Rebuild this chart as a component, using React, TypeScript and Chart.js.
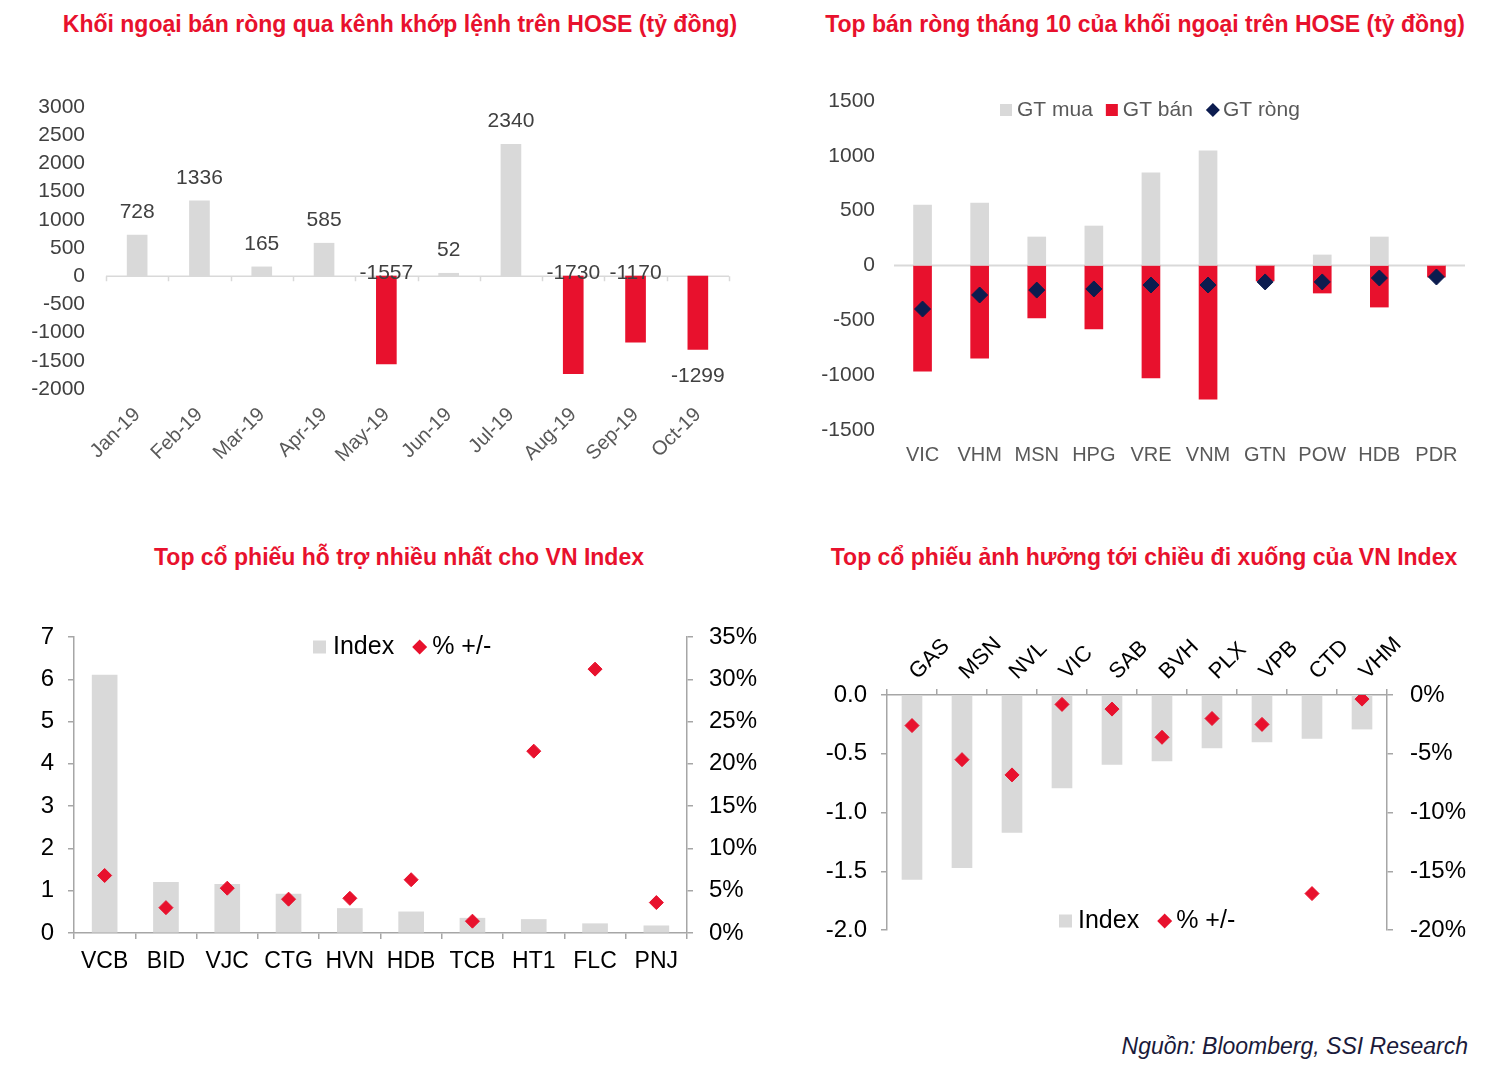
import React, { useEffect, useRef } from "react";
import { Chart, registerables } from "chart.js";
Chart.register(...registerables);

const FONT = "'Liberation Sans', Arial, sans-serif";
const GRAY = "#d9d9d9";
const RED = "#e8112d";
const NAVY = "#0c1c4f";
const AXIS = "#a6a6a6";

// Panel 1: net foreign flow by month
const months = ["Jan-19", "Feb-19", "Mar-19", "Apr-19", "May-19", "Jun-19", "Jul-19", "Aug-19", "Sep-19", "Oct-19"];
const netFlow = [728, 1336, 165, 585, -1557, 52, 2340, -1730, -1170, -1299];

// Panel 2: top net sells in October
const topTickers = ["VIC", "VHM", "MSN", "HPG", "VRE", "VNM", "GTN", "POW", "HDB", "PDR"];
const buyValue = [552, 570, 260, 360, 844, 1045, 0, 96, 260, 0];
const sellValue = [-963, -844, -479, -579, -1026, -1218, -141, -251, -379, -105];
const netValue = [-397, -269, -224, -214, -178, -178, -150, -150, -114, -105];

// Panel 3: top supporting stocks
const supportTickers = ["VCB", "BID", "VJC", "CTG", "HVN", "HDB", "TCB", "HT1", "FLC", "PNJ"];
const supportIndex = [6.1, 1.2, 1.15, 0.92, 0.58, 0.5, 0.35, 0.32, 0.22, 0.17];
const supportPct = [0.068, 0.03, 0.053, 0.04, 0.041, 0.063, 0.014, 0.215, 0.312, 0.036];

// Panel 4: top dragging stocks
const dragTickers = ["GAS", "MSN", "NVL", "VIC", "SAB", "BVH", "PLX", "VPB", "CTD", "VHM"];
const dragIndex = [-1.57, -1.47, -1.17, -0.79, -0.59, -0.56, -0.45, -0.4, -0.37, -0.29];
const dragPct = [-0.026, -0.055, -0.068, -0.008, -0.012, -0.036, -0.02, -0.025, -0.169, -0.0035];

type LegendItem = { label: string; color: string; shape: "square" | "diamond" };

const legendPlugin = {
  id: "customLegend",
  afterDraw(chart: any, _args: any, opts: any) {
    if (!opts || !opts.items) return;
    const ctx = chart.ctx;
    ctx.save();
    ctx.font = `${opts.size}px ${FONT}`;
    ctx.textBaseline = "middle";
    ctx.textAlign = "left";
    let x = opts.x;
    const y = opts.y;
    (opts.items as LegendItem[]).forEach((it) => {
      const m = opts.marker;
      ctx.fillStyle = it.color;
      if (it.shape === "square") {
        ctx.fillRect(x, y - m / 2, m, m);
      } else {
        const r = m / 2 + 1;
        ctx.beginPath();
        ctx.moveTo(x + r, y - r);
        ctx.lineTo(x + 2 * r, y);
        ctx.lineTo(x + r, y + r);
        ctx.lineTo(x, y);
        ctx.closePath();
        ctx.fill();
      }
      x += m + opts.gap;
      ctx.fillStyle = opts.color;
      ctx.fillText(it.label, x, y);
      x += ctx.measureText(it.label).width + opts.spacing;
    });
    ctx.restore();
  },
};

const zeroLinePlugin = {
  id: "zeroLine",
  beforeDatasetsDraw(chart: any, _args: any, opts: any) {
    if (!opts || !opts.enabled) return;
    const { ctx, chartArea } = chart;
    const y0 = chart.scales.y.getPixelForValue(0);
    ctx.save();
    ctx.strokeStyle = opts.color;
    ctx.lineWidth = opts.width;
    ctx.beginPath();
    ctx.moveTo(chartArea.left, y0);
    ctx.lineTo(chartArea.right, y0);
    if (opts.ticks) {
      const n = chart.data.labels.length;
      const w = (chartArea.right - chartArea.left) / n;
      for (let i = 0; i <= n; i++) {
        const x = Math.round(chartArea.left + i * w) + 0.5;
        ctx.moveTo(x, y0);
        ctx.lineTo(x, y0 + opts.ticks);
      }
    }
    ctx.stroke();
    ctx.restore();
  },
};

const valueLabelPlugin = {
  id: "valueLabels",
  afterDatasetsDraw(chart: any, _args: any, opts: any) {
    if (!opts || !opts.enabled) return;
    const ctx = chart.ctx;
    const meta = chart.getDatasetMeta(0);
    const values = chart.data.datasets[0].data as number[];
    const y0 = chart.scales.y.getPixelForValue(0);
    const last = values.length - 1;
    ctx.save();
    ctx.font = `${opts.size}px ${FONT}`;
    ctx.fillStyle = opts.color;
    ctx.textAlign = "center";
    ctx.textBaseline = "middle";
    meta.data.forEach((bar: any, i: number) => {
      const v = values[i];
      let y: number;
      if (v >= 0) y = bar.y - 23;
      else if (i === last) y = bar.y + 27;
      else y = y0 - 3;
      ctx.fillText(String(v), bar.x, y);
    });
    ctx.restore();
  },
};

Chart.register(legendPlugin, zeroLinePlugin, valueLabelPlugin);

function useChart(ref: React.RefObject<HTMLCanvasElement | null>, make: () => any) {
  useEffect(() => {
    if (!ref.current) return;
    const chart = new Chart(ref.current, make());
    return () => chart.destroy();
  }, []);
}

const fixW = (w: number) => (s: any) => {
  s.width = w;
};
const fixH = (h: number) => (s: any) => {
  s.height = h;
};

function Panel1() {
  const ref = useRef<HTMLCanvasElement>(null);
  useChart(ref, () => ({
    type: "bar",
    data: {
      labels: months,
      datasets: [
        {
          data: netFlow,
          backgroundColor: netFlow.map((v) => (v >= 0 ? GRAY : RED)),
          barThickness: 20,
        },
      ],
    },
    options: {
      responsive: false,
      animation: false,
      layout: { padding: { top: 47, right: 21, left: 0, bottom: 0 } },
      plugins: {
        legend: { display: false },
        tooltip: { enabled: false },
        zeroLine: { enabled: true, color: GRAY, width: 1.5, ticks: 5 },
        valueLabels: { enabled: true, size: 21, color: "#404040" },
      },
      scales: {
        x: {
          afterFit: fixH(111),
          grid: { display: false },
          border: { display: false },
          ticks: {
            color: "#595959",
            font: { family: FONT, size: 20 },
            minRotation: 45,
            maxRotation: 45,
            autoSkip: false,
            padding: 6,
          },
        },
        y: {
          afterFit: fixW(106),
          min: -2000,
          max: 3000,
          grid: { display: false, drawTicks: false },
          border: { display: false },
          ticks: {
            stepSize: 500,
            padding: 21,
            color: "#404040",
            font: { family: FONT, size: 21 },
            callback: (v: any) => String(v),
          },
        },
      },
    },
  }));
  return <canvas ref={ref} width={750} height={440} style={{ position: "absolute", left: 0, top: 60 }} />;
}

function Panel2() {
  const ref = useRef<HTMLCanvasElement>(null);
  useChart(ref, () => ({
    type: "bar",
    data: {
      labels: topTickers,
      datasets: [
        {
          type: "line",
          label: "GT ròng",
          data: netValue,
          showLine: false,
          pointStyle: "rectRot",
          pointRadius: 8,
          pointBackgroundColor: NAVY,
          pointBorderColor: NAVY,
          order: 0,
        },
        { label: "GT mua", data: buyValue, backgroundColor: GRAY, barThickness: 18, grouped: false, order: 1 },
        { label: "GT bán", data: sellValue, backgroundColor: RED, barThickness: 18, grouped: false, order: 2 },
      ],
    },
    options: {
      responsive: false,
      animation: false,
      layout: { padding: { top: 41, right: 32, left: 0, bottom: 0 } },
      plugins: {
        legend: { display: false },
        tooltip: { enabled: false },
        zeroLine: { enabled: true, color: GRAY, width: 2, ticks: 0 },
        customLegend: {
          x: 240,
          y: 50,
          size: 21,
          marker: 12,
          gap: 5,
          spacing: 13,
          color: "#595959",
          items: [
            { label: "GT mua", color: GRAY, shape: "square" },
            { label: "GT bán", color: RED, shape: "square" },
            { label: "GT ròng", color: NAVY, shape: "diamond" },
          ],
        },
      },
      scales: {
        x: {
          afterFit: fixH(70),
          grid: { display: false },
          border: { display: false },
          ticks: { color: "#595959", font: { family: FONT, size: 20 }, padding: 5, autoSkip: false, maxRotation: 0 },
        },
        y: {
          afterFit: fixW(134),
          min: -1500,
          max: 1500,
          grid: { display: false, drawTicks: false },
          border: { display: false },
          ticks: {
            stepSize: 500,
            padding: 19,
            color: "#404040",
            font: { family: FONT, size: 21 },
            callback: (v: any) => String(v),
          },
        },
      },
    },
  }));
  return <canvas ref={ref} width={737} height={440} style={{ position: "absolute", left: 760, top: 60 }} />;
}

const axisGrid = { drawOnChartArea: false, drawTicks: true, tickLength: 6, color: AXIS, lineWidth: 1.5 };
const axisBorder = { display: true, color: AXIS, width: 1.5 };

function Panel3() {
  const ref = useRef<HTMLCanvasElement>(null);
  useChart(ref, () => ({
    type: "bar",
    data: {
      labels: supportTickers,
      datasets: [
        {
          type: "line",
          label: "% +/-",
          data: supportPct,
          yAxisID: "y2",
          showLine: false,
          pointStyle: "rectRot",
          pointRadius: 7,
          pointBackgroundColor: RED,
          pointBorderColor: RED,
          order: 0,
        },
        { label: "Index", data: supportIndex, yAxisID: "y", backgroundColor: GRAY, barThickness: 25, order: 1 },
      ],
    },
    options: {
      responsive: false,
      animation: false,
      layout: { padding: { top: 37, right: 0, left: 0, bottom: 0 } },
      plugins: {
        legend: { display: false },
        tooltip: { enabled: false },
        customLegend: {
          x: 313,
          y: 47,
          size: 25,
          marker: 13,
          gap: 7,
          spacing: 18,
          color: "#000",
          items: [
            { label: "Index", color: GRAY, shape: "square" },
            { label: "% +/-", color: RED, shape: "diamond" },
          ],
        },
      },
      scales: {
        x: {
          afterFit: fixH(67),
          grid: { ...axisGrid, offset: true },
          border: axisBorder,
          ticks: { color: "#000", font: { family: FONT, size: 23 }, padding: 9, autoSkip: false, maxRotation: 0 },
        },
        y: {
          position: "left",
          afterFit: fixW(74),
          min: 0,
          max: 7,
          grid: axisGrid,
          border: axisBorder,
          ticks: { stepSize: 1, padding: 14, color: "#000", font: { family: FONT, size: 24 } },
        },
        y2: {
          position: "right",
          afterFit: fixW(83),
          min: 0,
          max: 0.35,
          grid: axisGrid,
          border: axisBorder,
          ticks: {
            stepSize: 0.05,
            padding: 16,
            color: "#000",
            font: { family: FONT, size: 24 },
            callback: (v: any) => Math.round(v * 100) + "%",
          },
        },
      },
    },
  }));
  return <canvas ref={ref} width={770} height={400} style={{ position: "absolute", left: 0, top: 600 }} />;
}

function Panel4() {
  const ref = useRef<HTMLCanvasElement>(null);
  useChart(ref, () => ({
    type: "bar",
    data: {
      labels: dragTickers,
      datasets: [
        {
          type: "line",
          label: "% +/-",
          data: dragPct,
          yAxisID: "y2",
          showLine: false,
          pointStyle: "rectRot",
          pointRadius: 7,
          pointBackgroundColor: RED,
          pointBorderColor: RED,
          order: 0,
        },
        { label: "Index", data: dragIndex, yAxisID: "y", backgroundColor: GRAY, barThickness: 20, order: 1 },
      ],
    },
    options: {
      responsive: false,
      animation: false,
      layout: { padding: { top: 0, right: 0, left: 0, bottom: 70 } },
      plugins: {
        legend: { display: false },
        tooltip: { enabled: false },
        customLegend: {
          x: 299,
          y: 321,
          size: 25,
          marker: 13,
          gap: 6,
          spacing: 18,
          color: "#000",
          items: [
            { label: "Index", color: GRAY, shape: "square" },
            { label: "% +/-", color: RED, shape: "diamond" },
          ],
        },
      },
      scales: {
        x: {
          position: "top",
          afterFit: fixH(95),
          grid: { ...axisGrid, offset: true },
          border: axisBorder,
          ticks: {
            color: "#000",
            font: { family: FONT, size: 22 },
            padding: 4,
            labelOffset: 20,
            autoSkip: false,
            minRotation: 45,
            maxRotation: 45,
          },
        },
        y: {
          position: "left",
          afterFit: fixW(127),
          min: -2,
          max: 0,
          grid: axisGrid,
          border: axisBorder,
          ticks: {
            stepSize: 0.5,
            padding: 14,
            color: "#000",
            font: { family: FONT, size: 24 },
            callback: (v: any) => Number(v).toFixed(1),
          },
        },
        y2: {
          position: "right",
          afterFit: fixW(110),
          min: -0.2,
          max: 0,
          grid: axisGrid,
          border: axisBorder,
          ticks: {
            stepSize: 0.05,
            padding: 17,
            color: "#000",
            font: { family: FONT, size: 24 },
            callback: (v: any) => Math.round(v * 100) + "%",
          },
        },
      },
    },
  }));
  return <canvas ref={ref} width={737} height={400} style={{ position: "absolute", left: 760, top: 600 }} />;
}

const titleStyle = (cx: number, cy: number): React.CSSProperties => ({
  position: "absolute",
  left: cx - 400,
  width: 800,
  top: cy - 14,
  height: 28,
  lineHeight: "28px",
  textAlign: "center",
  fontFamily: FONT,
  fontWeight: "bold",
  fontSize: 23,
  color: RED,
  whiteSpace: "nowrap",
});

export default function App() {
  return (
    <div style={{ position: "absolute", left: 0, top: 0, width: 1497, height: 1080, background: "#fff", overflow: "hidden" }}>
      <div style={titleStyle(400, 24)}>Khối ngoại bán ròng qua kênh khớp lệnh trên HOSE (tỷ đồng)</div>
      <div style={titleStyle(1145, 24)}>Top bán ròng tháng 10 của khối ngoại trên HOSE (tỷ đồng)</div>
      <div style={titleStyle(399, 557)}>Top cổ phiếu hỗ trợ nhiều nhất cho VN Index</div>
      <div style={titleStyle(1144, 557)}>Top cổ phiếu ảnh hưởng tới chiều đi xuống của VN Index</div>
      <Panel1 />
      <Panel2 />
      <Panel3 />
      <Panel4 />
      <div
        style={{
          position: "absolute",
          right: 1497 - 1468,
          top: 1032,
          fontFamily: FONT,
          fontStyle: "italic",
          fontSize: 23,
          lineHeight: "28px",
          color: "#1a1a3a",
          whiteSpace: "nowrap",
        }}
      >
        Nguồn: Bloomberg, SSI Research
      </div>
    </div>
  );
}
